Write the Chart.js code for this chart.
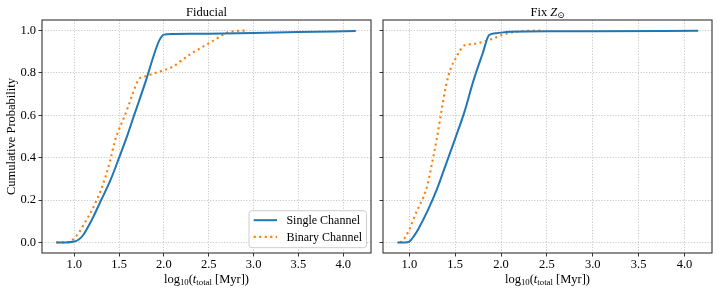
<!DOCTYPE html>
<html><head><meta charset="utf-8">
<script src="https://cdn.jsdelivr.net/npm/chart.js@4"></script>
<style>
html,body{margin:0;padding:0;background:#fff;}
#wrap{position:relative;width:718px;height:293px;overflow:hidden;}
canvas{position:absolute;top:0;left:0;}
</style></head><body>
<div id="wrap">
<div style="position:absolute;left:0;top:0;width:377px;height:293px"><canvas id="left" width="377" height="293"></canvas></div>
<div style="position:absolute;left:377px;top:0;width:341px;height:293px"><canvas id="right" width="341" height="293"></canvas></div>
</div>
<script>
// ---- data ----
const xTicks = [1.0, 1.5, 2.0, 2.5, 3.0, 3.5, 4.0];
const yTicks = [0.0, 0.2, 0.4, 0.6, 0.8, 1.0];
const seriesNames = ['Single Channel', 'Binary Channel'];
const panelTitles = ['Fiducial', 'Fix Z'];

const fidSingleX = [0.80,0.90,1.00,1.05,1.10,1.20,1.30,1.40,1.50,1.60,1.667,1.70,1.80,1.90,1.95,2.00,2.10,2.50,3.00,3.50,4.14];
const fidSingleY = [0,0,0.004,0.014,0.035,0.11,0.20,0.29,0.40,0.515,0.60,0.64,0.765,0.90,0.955,0.981,0.984,0.985,0.989,0.993,0.998];
const fidBinaryX = [0.80,0.90,0.95,1.00,1.05,1.10,1.20,1.25,1.30,1.40,1.45,1.50,1.55,1.60,1.65,1.70,1.73,1.80,1.90,2.00,2.10,2.20,2.30,2.40,2.50,2.60,2.70,2.80,2.90];
const fidBinaryY = [0,0,0.003,0.02,0.045,0.08,0.155,0.20,0.25,0.385,0.475,0.535,0.585,0.64,0.70,0.755,0.775,0.785,0.80,0.813,0.83,0.86,0.89,0.915,0.94,0.965,0.99,0.998,1.0];

const fixSingleX = [0.87,0.95,1.00,1.05,1.10,1.20,1.30,1.40,1.50,1.60,1.70,1.80,1.87,1.95,2.10,2.50,3.00,4.15];
const fixSingleY = [0,0,0.004,0.03,0.065,0.15,0.25,0.37,0.49,0.615,0.765,0.893,0.979,0.988,0.994,0.997,0.997,0.999];
const fixBinaryX = [0.90,0.93,1.00,1.05,1.10,1.15,1.20,1.25,1.30,1.35,1.40,1.45,1.50,1.55,1.60,1.70,1.80,1.90,2.00,2.10,2.20,2.30,2.44];
const fixBinaryY = [0,0.01,0.06,0.115,0.165,0.21,0.275,0.38,0.49,0.62,0.74,0.82,0.865,0.905,0.93,0.937,0.947,0.96,0.978,0.99,0.996,0.999,1.0];

// ---- styling ----
const FAM = '"Liberation Serif","Times New Roman","DejaVu Serif",serif';
const FS = 12.5;
const BLUE = '#1f77b4', ORANGE = '#ff7f0e';
const GRID = 'rgba(176,176,176,0.75)';
const SPINE = '#333333';

function pts(xs, ys){ return xs.map((x,i)=>({x:x, y:ys[i]})); }

function datasets(sx, sy, bx, by){
  return [
    {label: seriesNames[0], data: pts(sx, sy), borderColor: BLUE, borderWidth: 2,
     pointRadius: 0, fill: false, cubicInterpolationMode: 'monotone'},
    {label: seriesNames[1], data: pts(bx, by), borderColor: ORANGE, borderWidth: 2.1,
     borderDash: [2.1, 3.4], borderCapStyle: 'butt', pointRadius: 0, fill: false, cubicInterpolationMode: 'monotone'}
  ];
}

function drawRich(ctx, parts, cx, baseline){
  let w = 0;
  parts.forEach(p=>{ ctx.font = p.f; p.w = ctx.measureText(p.t).width; w += p.w; });
  let x = cx - w/2;
  ctx.textAlign = 'left'; ctx.textBaseline = 'alphabetic'; ctx.fillStyle = '#000';
  parts.forEach(p=>{ ctx.font = p.f; ctx.fillText(p.t, x, baseline + (p.dy||0)); x += p.w; });
}

const MAIN = FS + 'px ' + FAM;
const ITAL = 'italic ' + FS + 'px ' + FAM;
const SUB = (FS*0.7).toFixed(2) + 'px ' + FAM;
const xLabelParts = [
  {t:'log', f:MAIN}, {t:'10', f:SUB, dy:2.6}, {t:'(', f:MAIN}, {t:'t', f:ITAL},
  {t:'total', f:SUB, dy:2.6}, {t:' [Myr])', f:MAIN}
];

const decor = {
  id: 'decor',
  afterDraw(chart, args, opts){
    const ctx = chart.ctx, a = chart.chartArea;
    ctx.save();
    // spines
    ctx.strokeStyle = SPINE; ctx.lineWidth = 1.1; ctx.setLineDash([]);
    ctx.strokeRect(a.left, a.top, a.right - a.left, a.bottom - a.top);
    const cx = (a.left + a.right)/2;
    // title
    drawRich(ctx, opts.title, cx, 15.5);
    // x label
    drawRich(ctx, xLabelParts, cx, 282.5);
    // y label
    if (opts.ylabel){
      ctx.save();
      ctx.translate(12, (a.top + a.bottom)/2);
      ctx.rotate(-Math.PI/2);
      ctx.font = MAIN; ctx.fillStyle = '#000';
      ctx.textAlign = 'center'; ctx.textBaseline = 'middle';
      ctx.fillText(opts.ylabel, 0, 0);
      ctx.restore();
    }
    // legend
    if (opts.legend){
      const bx1 = a.right - 4.5, by2 = a.bottom - 5.3;
      const bw = 117.5, bh = 37;
      const bx = bx1 - bw, by = by2 - bh;
      ctx.beginPath();
      ctx.roundRect(bx, by, bw, bh, 3);
      ctx.fillStyle = 'rgba(255,255,255,0.8)'; ctx.fill();
      ctx.strokeStyle = '#cccccc'; ctx.lineWidth = 1; ctx.stroke();
      chart.data.datasets.forEach((d, i)=>{
        const y = by + 9.5 + i*16.7;
        ctx.beginPath();
        ctx.strokeStyle = d.borderColor; ctx.lineWidth = d.borderWidth;
        ctx.lineCap = 'butt';
        ctx.setLineDash(d.borderDash || []);
        ctx.moveTo(bx + 4.7, y); ctx.lineTo(bx + 28, y); ctx.stroke();
        ctx.setLineDash([]);
        ctx.font = '12px ' + FAM; ctx.fillStyle = '#000';
        ctx.textAlign = 'left'; ctx.textBaseline = 'middle';
        ctx.fillText(d.label, bx + 37.4, y + 0.5);
      });
    }
    ctx.restore();
  }
};

function makeScales(xmin, xmax, yLabels, yWidth){
  const tickFont = {family: FAM, size: FS};
  return {
    x: {
      type: 'linear', min: xmin, max: xmax,
      afterBuildTicks: s => { s.ticks = xTicks.map(v=>({value:v})); },
      afterFit: s => { s.height = 40; },
      grid: {color: GRID, lineWidth: 0.9, drawTicks: true, tickLength: 3.5,
             tickColor: SPINE, tickWidth: 1, tickBorderDash: []},
      border: {display: false, dash: [1.2, 1.6]},
      ticks: {autoSkip: false, maxRotation: 0, padding: 1, color: '#000', font: tickFont,
              callback: v => v.toFixed(1)}
    },
    y: {
      type: 'linear', min: -0.05, max: 1.05,
      afterBuildTicks: s => { s.ticks = yTicks.map(v=>({value:v})); },
      afterFit: s => { s.width = yWidth; },
      grid: {color: GRID, lineWidth: 0.9, drawTicks: true, tickLength: 3.5,
             tickColor: SPINE, tickWidth: 1, tickBorderDash: []},
      border: {display: false, dash: [1.2, 1.6]},
      ticks: {autoSkip: false, padding: 2.5, color: '#000', font: tickFont,
              callback: v => yLabels ? v.toFixed(1) : ''}
    }
  };
}

function makeChart(id, ds, xmin, xmax, yLabels, yWidth, title, ylabel, legend){
  return new Chart(document.getElementById(id), {
    type: 'line',
    data: {datasets: ds},
    options: {
      responsive: false, animation: false, devicePixelRatio: 1,
      parsing: true,
      layout: {padding: {top: 20, right: 6, left: 0, bottom: 0}},
      scales: makeScales(xmin, xmax, yLabels, yWidth),
      plugins: {legend: {display: false}, title: {display: false}, tooltip: {enabled: false},
                decor: {title: title, ylabel: ylabel, legend: legend}},
      elements: {line: {tension: 0}}
    },
    plugins: [decor]
  });
}

makeChart('left', datasets(fidSingleX, fidSingleY, fidBinaryX, fidBinaryY),
  0.64, 4.31, true, 42, [{t: panelTitles[0], f: MAIN}], 'Cumulative Probability', true);
makeChart('right', datasets(fixSingleX, fixSingleY, fixBinaryX, fixBinaryY),
  0.713, 4.30, false, 6,
  [{t: panelTitles[1].slice(0,4), f: MAIN}, {t: panelTitles[1].slice(4), f: ITAL}, {t: '\u2299', f: SUB, dy: 2.6}],
  null, false);
</script>
</body></html>
